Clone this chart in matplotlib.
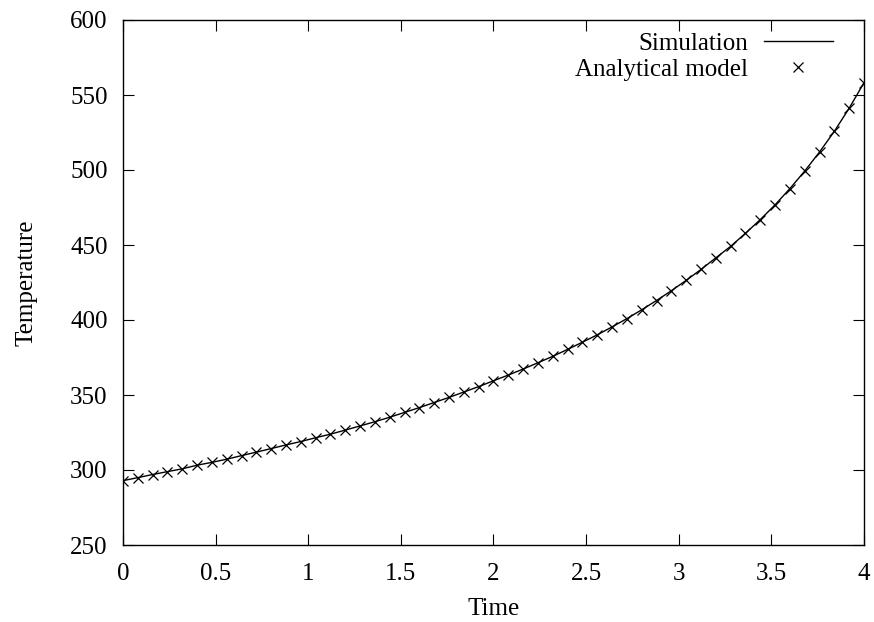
import matplotlib
matplotlib.use('Agg')
import matplotlib.pyplot as plt

# time samples (every 0.08) and temperature
time = [0.00, 0.08, 0.16, 0.24, 0.32, 0.40, 0.48, 0.56, 0.64, 0.72,
        0.80, 0.88, 0.96, 1.04, 1.12, 1.20, 1.28, 1.36, 1.44, 1.52,
        1.60, 1.68, 1.76, 1.84, 1.92, 2.00, 2.08, 2.16, 2.24, 2.32,
        2.40, 2.48, 2.56, 2.64, 2.72, 2.80, 2.88, 2.96, 3.04, 3.12,
        3.20, 3.28, 3.36, 3.44, 3.52, 3.60, 3.68, 3.76, 3.84, 3.92, 4.00]
temperature = [292.9, 294.9, 297.0, 298.9, 300.8, 303.2, 305.1, 307.2, 309.6, 311.9,
               314.3, 316.7, 319.0, 321.5, 323.9, 326.6, 329.4, 332.2, 335.2, 338.4,
               341.6, 345.0, 348.4, 352.0, 355.6, 359.5, 363.3, 367.3, 371.5, 375.8,
               380.4, 385.2, 390.1, 395.4, 400.9, 406.8, 413.0, 419.5, 426.4, 433.7,
               441.4, 449.1, 457.8, 466.9, 476.8, 487.6, 499.3, 512.0, 525.8, 541.2, 558.2]

xticks = [0, 0.5, 1, 1.5, 2, 2.5, 3, 3.5, 4]
xtick_labels = ['0', '0.5', '1', '1.5', '2', '2.5', '3', '3.5', '4']
yticks = [250, 300, 350, 400, 450, 500, 550, 600]

plt.rcParams['font.family'] = ['Liberation Serif', 'DejaVu Serif']
plt.rcParams['font.size'] = 18

fig = plt.figure(figsize=(8.74, 6.22), dpi=100)
ax = fig.add_axes([123 / 874, 1 - 545 / 622, 741 / 874, 525 / 622])

ax.plot(time, temperature, color='black', lw=1.0, label='Simulation')
ax.plot(time, temperature, ls='none', marker='x', ms=6.5, mew=0.9,
        color='black', label='Analytical model')

ax.set_xlim(0, 4)
ax.set_ylim(250, 600)
ax.set_xticks(xticks, labels=xtick_labels)
ax.set_yticks(yticks)
ax.tick_params(direction='in', length=8, width=0.8, top=True, right=True)
ax.tick_params(axis='x', pad=13)
ax.tick_params(axis='y', pad=11)
for s in ax.spines.values():
    s.set_linewidth(1.0)

ax.set_xlabel('Time', labelpad=9.5)
ax.set_ylabel('Temperature', labelpad=23.5)

ax.legend(loc='upper right', bbox_to_anchor=(0.958, 0.976), frameon=False,
          markerfirst=False, handlelength=2.76, handletextpad=0.64,
          labelspacing=0.12, borderpad=0, borderaxespad=0)

fig.savefig('out.png', dpi=100)
